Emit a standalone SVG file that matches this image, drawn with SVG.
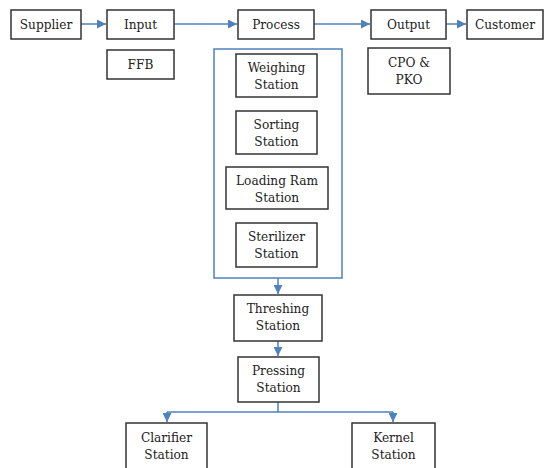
<svg xmlns="http://www.w3.org/2000/svg" width="546" height="468" viewBox="0 0 546 468">
<style>
.box{fill:#fff;stroke:#333;stroke-width:1.5}
.t{font-family:'DejaVu Serif Condensed','DejaVu Serif',serif;font-stretch:condensed;font-size:13.5px;fill:#222;text-anchor:middle}
.c{fill:none;stroke:#4f81bd;stroke-width:1.5}
</style>
<defs>
<marker id="ah" viewBox="0 0 10 10" refX="10" refY="5" markerWidth="9" markerHeight="9" markerUnits="userSpaceOnUse" orient="auto">
<path d="M0,0 L10,5 L0,10 z" fill="#4f81bd"/>
</marker>
</defs>
<rect width="546" height="468" fill="#fff"/>
<g id="connectors">
<line class="c" x1="81" y1="24" x2="106" y2="24" marker-end="url(#ah)"/>
<line class="c" x1="174" y1="24" x2="237" y2="24" marker-end="url(#ah)"/>
<line class="c" x1="314" y1="24" x2="370" y2="24" marker-end="url(#ah)"/>
<line class="c" x1="446" y1="24" x2="466" y2="24" marker-end="url(#ah)"/>
<line class="c" x1="278" y1="278" x2="278" y2="294" marker-end="url(#ah)"/>
<line class="c" x1="278" y1="341" x2="278" y2="356" marker-end="url(#ah)"/>
<polyline class="c" points="278,402 278,412"/>
<polyline class="c" points="167,412 393,412"/>
<line class="c" x1="167" y1="412" x2="167" y2="422" marker-end="url(#ah)"/>
<line class="c" x1="393" y1="412" x2="393" y2="422" marker-end="url(#ah)"/>
</g>
<g id="process-group">
<rect x="214" y="49" width="128" height="229" fill="none" stroke="#4f81bd" stroke-width="1.5"/>
</g>
<g id="supplier"><rect class="box" x="11" y="10" width="70" height="29"/><text class="t" x="46" y="29">Supplier</text></g>
<g id="input"><rect class="box" x="107" y="10" width="67" height="29"/><text class="t" x="140.5" y="29">Input</text></g>
<g id="ffb"><rect class="box" x="107" y="50" width="67" height="29"/><text class="t" x="140.5" y="69">FFB</text></g>
<g id="process"><rect class="box" x="238" y="10" width="76" height="29"/><text class="t" x="276" y="29">Process</text></g>
<g id="output"><rect class="box" x="371" y="10" width="75" height="29"/><text class="t" x="408.5" y="29">Output</text></g>
<g id="customer"><rect class="box" x="467" y="10" width="76" height="29"/><text class="t" x="505" y="29">Customer</text></g>
<g id="cpo"><rect class="box" x="368" y="48" width="82" height="46"/><text class="t" x="409" y="67">CPO &amp;</text><text class="t" x="409" y="84">PKO</text></g>
<g id="weighing"><rect class="box" x="236" y="54" width="81" height="43"/><text class="t" x="276.5" y="72">Weighing</text><text class="t" x="276.5" y="89">Station</text></g>
<g id="sorting"><rect class="box" x="236" y="111" width="81" height="43"/><text class="t" x="276.5" y="129">Sorting</text><text class="t" x="276.5" y="146">Station</text></g>
<g id="loading"><rect class="box" x="226" y="167" width="102" height="42"/><text class="t" x="277" y="185">Loading Ram</text><text class="t" x="277" y="202">Station</text></g>
<g id="sterilizer"><rect class="box" x="236" y="223" width="81" height="44"/><text class="t" x="276.5" y="241">Sterilizer</text><text class="t" x="276.5" y="258">Station</text></g>
<g id="threshing"><rect class="box" x="234" y="295" width="88" height="46"/><text class="t" x="278" y="313">Threshing</text><text class="t" x="278" y="330">Station</text></g>
<g id="pressing"><rect class="box" x="238" y="357" width="81" height="45"/><text class="t" x="278.5" y="375">Pressing</text><text class="t" x="278.5" y="392">Station</text></g>
<g id="clarifier"><rect class="box" x="126" y="423" width="81" height="50"/><text class="t" x="166.5" y="442">Clarifier</text><text class="t" x="166.5" y="459">Station</text></g>
<g id="kernel"><rect class="box" x="352" y="423" width="83" height="50"/><text class="t" x="393.5" y="442">Kernel</text><text class="t" x="393.5" y="459">Station</text></g>
</svg>
